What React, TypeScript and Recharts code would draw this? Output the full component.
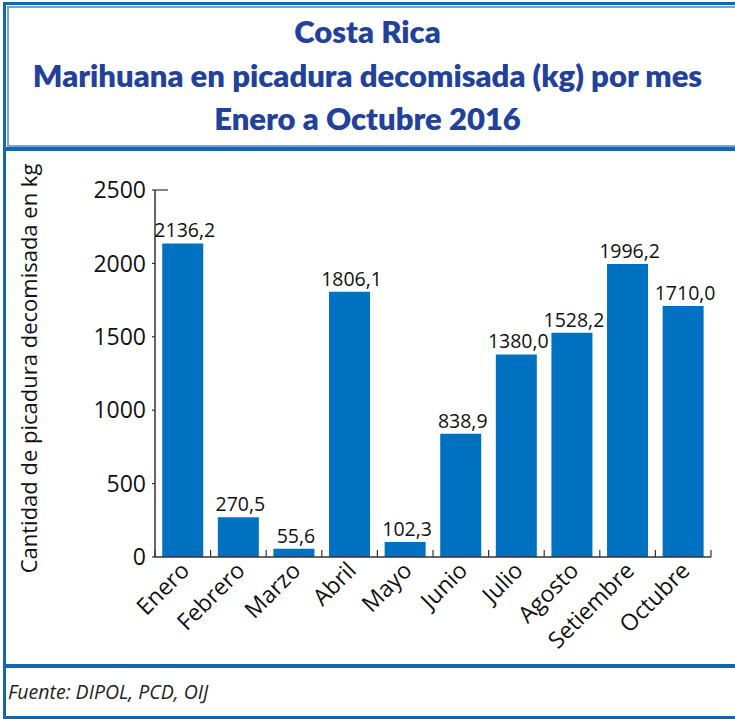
import React from "react";
import { BarChart, Bar, XAxis, YAxis, LabelList } from "recharts";

const months = [
  "Enero",
  "Febrero",
  "Marzo",
  "Abril",
  "Mayo",
  "Junio",
  "Julio",
  "Agosto",
  "Setiembre",
  "Octubre",
];

const kilos = [2136.2, 270.5, 55.6, 1806.1, 102.3, 838.9, 1380.0, 1528.2, 1996.2, 1710.0];

const yTicks = [0, 500, 1000, 1500, 2000, 2500];

const titleLines = [
  "Costa Rica",
  "Marihuana en picadura decomisada (kg) por mes",
  "Enero a Octubre 2016",
];

const yLabel = "Cantidad de picadura decomisada en kg";
const source = "Fuente: DIPOL, PCD, OIJ";

const data = months.map((m, i) => ({ month: m, value: kilos[i] }));

const DARK = "#1367ad";
const LIGHT = "#6fa6d6";
const TITLE = "#21419a";
const FONT = "'Open Sans', sans-serif";

const CHART_W = 735;
const CHART_H = 515;
const margin = { top: 40, right: 24, bottom: 0, left: 0 };
const Y_W = 155;
const X_H = 108;
const band = (CHART_W - margin.right - Y_W) / months.length;

const fmt = (v: number) => v.toFixed(1).replace(".", ",");

function YTick(props: any) {
  const { x, y, payload } = props;
  return (
    <g>
      <line x1={x - 3} x2={x} y1={y} y2={y} stroke="#333" strokeWidth={1.2} />
      {payload.value === 2500 && (
        <line x1={x} x2={x + 13} y1={y} y2={y} stroke="#333" strokeWidth={1.2} />
      )}
      <text
        x={x - 9}
        y={y}
        dy="0.36em"
        textAnchor="end"
        fontSize={23}
        fontFamily={FONT}
        fill="#111"
      >
        {payload.value}
      </text>
    </g>
  );
}

function XTick(props: any) {
  const { x, y, payload, index } = props;
  const left = x - band / 2;
  const right = x + band / 2;
  return (
    <g>
      <line x1={left} x2={left} y1={y} y2={y - 7} stroke="#333" strokeWidth={1.2} />
      {index === months.length - 1 && (
        <line x1={right} x2={right} y1={y} y2={y - 7} stroke="#333" strokeWidth={1.2} />
      )}
      <text
        transform={`translate(${x + 8}, ${y + 15}) rotate(-45)`}
        textAnchor="end"
        fontSize={23}
        fontFamily={FONT}
        fill="#111"
      >
        {payload.value}
      </text>
    </g>
  );
}

function YLabel(props: any) {
  const vb = props.viewBox;
  return (
    <text
      transform={`translate(28, ${vb.y + vb.height / 2 - 5}) rotate(-90)`}
      textAnchor="middle"
      dominantBaseline="central"
      fontSize={22}
      fontFamily={FONT}
      fill="#111"
    >
      {yLabel}
    </text>
  );
}

function BarLabel(props: any) {
  const { x, y, width, value } = props;
  return (
    <text
      x={x + width / 2 + 2}
      y={y - 6}
      textAnchor="middle"
      fontSize={19.5}
      fontFamily={FONT}
      fill="#111"
    >
      {fmt(Number(value))}
    </text>
  );
}

const line = (style: React.CSSProperties): React.CSSProperties => ({
  position: "absolute",
  ...style,
});

export default function App() {
  return (
    <div
      style={{
        position: "absolute",
        top: 0,
        left: 0,
        width: 735,
        height: 719,
        background: "#fff",
        overflow: "hidden",
      }}
    >
      {/* frame */}
      <div style={line({ left: 3, top: 2, width: 3, height: 716, background: DARK })} />
      <div style={line({ left: 3, top: 2, width: 732, height: 3, background: DARK })} />
      <div style={line({ left: 7, top: 6, width: 2, height: 140, background: LIGHT })} />
      <div style={line({ left: 7, top: 6, width: 728, height: 2, background: LIGHT })} />
      <div style={line({ left: 7, top: 145, width: 728, height: 2, background: LIGHT })} />
      <div style={line({ left: 3, top: 147, width: 732, height: 4, background: DARK })} />
      <div style={line({ left: 3, top: 664, width: 732, height: 4, background: DARK })} />
      <div style={line({ left: 3, top: 716, width: 732, height: 3, background: DARK })} />

      {/* title */}
      {titleLines.map((t, i) => (
        <div
          key={t}
          style={{
            position: "absolute",
            left: 0,
            width: 735,
            top: 12 + i * 43.5,
            textAlign: "center",
            fontFamily: "Lato, sans-serif",
            fontWeight: 800,
            fontSize: 31,
            lineHeight: "38px",
            color: TITLE,
          }}
        >
          {t}
        </div>
      ))}

      <div style={{ position: "absolute", left: 0, top: 150 }}>
        <BarChart
          width={CHART_W}
          height={CHART_H}
          data={data}
          margin={margin}
          barCategoryGap="13%"
        >
          <XAxis
            dataKey="month"
            height={X_H}
            interval={0}
            tickSize={0}
            tickMargin={0}
            tickLine={false}
            stroke="#333"
            strokeWidth={1.5}
            tick={<XTick />}
          />
          <YAxis
            width={Y_W}
            domain={[0, 2500]}
            ticks={yTicks}
            tickSize={0}
            tickMargin={0}
            tickLine={false}
            stroke="#333"
            strokeWidth={1.5}
            tick={<YTick />}
            label={{ content: <YLabel /> }}
          />
          <Bar dataKey="value" fill="#0070c0" isAnimationActive={false}>
            <LabelList dataKey="value" content={<BarLabel />} />
          </Bar>
        </BarChart>
      </div>

      <div
        style={{
          position: "absolute",
          left: 8,
          top: 678,
          fontFamily: FONT,
          fontStyle: "italic",
          fontSize: 19.5,
          lineHeight: "28px",
          color: "#222",
        }}
      >
        {source}
      </div>
    </div>
  );
}
